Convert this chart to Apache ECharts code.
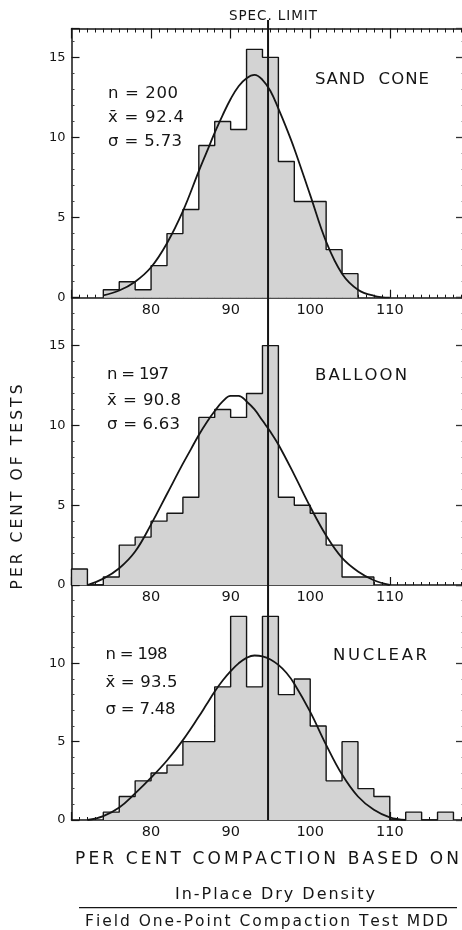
<!DOCTYPE html>
<html>
<head>
<meta charset="utf-8">
<script src="https://cdn.jsdelivr.net/npm/echarts@6/dist/echarts.min.js"></script>
<style>
  html, body { margin: 0; padding: 0; background: #ffffff; }
  #chart { width: 462px; height: 930px; }
</style>
</head>
<body>
<div id="chart"></div>
<script>
// Distribution of field per-cent compaction for three density test methods.

const SPEC_LIMIT = 94.7;

// Sand cone: histogram bin edges and per cent of tests in each bin
const sandConeEdges = [74, 76, 78, 80, 82, 84, 86, 88, 90, 92, 94, 96, 98, 100, 102, 104, 106];
const sandConePct   = [0.5, 1, 0.5, 2, 4, 5.5, 9.5, 11, 10.5, 15.5, 15, 8.5, 6, 6, 3, 1.5];
// Sand cone fitted normal curve
const sandConeFitX = [74, 76, 78, 80, 82, 84, 86, 87, 88, 89, 90, 91, 92, 93, 94, 95, 96, 97, 98, 100, 102, 104, 106, 108, 110];
const sandConeFitY = [0.15, 0.45, 1.0, 1.9, 3.4, 5.4, 7.9, 9.1, 10.3, 11.4, 12.4, 13.2, 13.7, 13.9, 13.6, 12.9, 11.8, 10.6, 9.3, 6.4, 3.5, 1.5, 0.5, 0.12, 0];

// Balloon
const balloonEdges = [70, 72, 74, 76, 78, 80, 82, 84, 86, 88, 90, 92, 94, 96, 98, 100, 102, 104, 106, 108];
const balloonPct   = [1, 0, 0.5, 2.5, 3, 4, 4.5, 5.5, 10.5, 11, 10.5, 12, 15, 5.5, 5, 4.5, 2.5, 0.5, 0.5];
const balloonFitX = [72, 74, 76, 78, 80, 82, 84, 85, 86, 87, 88, 89, 90, 91, 92, 93, 94, 95, 96, 98, 100, 102, 104, 106, 108, 110];
const balloonFitY = [0, 0.4, 1.05, 2.1, 3.8, 5.7, 7.6, 8.5, 9.4, 10.2, 10.9, 11.5, 11.85, 11.85, 11.5, 11.0, 10.3, 9.6, 8.8, 6.9, 4.9, 3.1, 1.7, 0.85, 0.3, 0];

// Nuclear
const nuclearEdges = [74, 76, 78, 80, 82, 84, 86, 88, 90, 92, 94, 96, 98, 100, 102, 104, 106, 108, 110, 112, 114, 116, 118];
const nuclearPct   = [0.5, 1.5, 2.5, 3, 3.5, 5, 5, 8.5, 13, 8.5, 13, 8, 9, 6, 2.5, 5, 2, 1.5, 0, 0.5, 0, 0.5];
const nuclearFitX = [72, 74, 76, 78, 80, 82, 84, 86, 87, 88, 89, 90, 91, 92, 93, 94, 95, 96, 97, 98, 100, 102, 104, 106, 108, 110, 112];
const nuclearFitY = [0, 0.25, 0.8, 1.7, 2.7, 3.8, 5.1, 6.6, 7.4, 8.2, 8.9, 9.5, 10.0, 10.35, 10.5, 10.45, 10.25, 9.9, 9.4, 8.7, 6.9, 4.8, 2.9, 1.5, 0.65, 0.17, 0];

// Panel captions and summary statistics
const panelNames = ['SAND  CONE', 'BALLOON', 'NUCLEAR'];
const panelN     = ['200', '197', '198'];
const panelMean  = ['92.4', '90.8', '93.5'];
const panelSigma = ['5.73', '6.63', '7.48'];

// Axis ranges and tick labels
const X_MIN = 70, X_MAX = 119.2;
const xTickLabels = ['80', '90', '100', '110'];
const yTickLabels = ['0', '5', '10', '15'];
const panelYMax = [16.8, 18, 15];

const INK = '#151515';
const FILL = '#d3d3d3';
const FONT = "'DejaVu Sans', sans-serif";

const grids = [
  { left: 71.5, top: 28.5, width: 391.5, height: 269.2 },
  { left: 71.5, top: 297.7, width: 391.5, height: 287.3 },
  { left: 71.5, top: 585, width: 391.5, height: 235 }
].map(g => Object.assign({ containLabel: false, outerBoundsMode: 'none' }, g));

// Step outline of a histogram: up the first edge, across each bin, down the last edge.
function stepData(edges, pct) {
  const pts = [[edges[0], 0]];
  pct.forEach((v, i) => pts.push([edges[i], v]));
  pts.push([edges[edges.length - 1], 0]);
  return pts;
}
function pairs(xs, ys) { return xs.map((x, i) => [x, ys[i]]); }

function bottomAxis(gi) {
  return {
    type: 'value', gridIndex: gi, position: 'bottom', min: X_MIN, max: X_MAX, interval: 10,
    axisLine: { show: true, onZero: false, lineStyle: { color: INK, width: 1.5 } },
    axisTick: { show: true, inside: true, length: 8, lineStyle: { color: INK, width: 1.2 } },
    minorTick: { show: true, splitNumber: 10, length: 3, lineStyle: { color: INK, width: 1 } },
    splitLine: { show: false }, minorSplitLine: { show: false },
    axisLabel: {
      show: true, margin: 5, fontSize: 14.5, color: INK, fontFamily: FONT,
      showMinLabel: false, showMaxLabel: false,
      formatter: v => xTickLabels.includes(String(v)) ? String(v) : ''
    }
  };
}
function topAxis(gi) {
  return {
    type: 'value', gridIndex: gi, position: 'top', min: X_MIN, max: X_MAX, interval: 10,
    axisLine: { show: true, onZero: false, lineStyle: { color: INK, width: 1.5 } },
    axisTick: { show: true, inside: true, length: 10, lineStyle: { color: INK, width: 1.2 } },
    minorTick: { show: true, splitNumber: 10, length: 4, lineStyle: { color: INK, width: 1 } },
    splitLine: { show: false }, axisLabel: { show: false }
  };
}
function leftAxis(gi) {
  return {
    type: 'value', gridIndex: gi, position: 'left', min: 0, max: panelYMax[gi], interval: 5,
    axisLine: { show: true, onZero: false, lineStyle: { color: INK, width: 1.5 } },
    axisTick: { show: true, inside: true, length: 8, lineStyle: { color: INK, width: 1.2 } },
    minorTick: { show: true, splitNumber: 5, length: 3, lineStyle: { color: '#444', width: 1 } },
    splitLine: { show: false }, minorSplitLine: { show: false },
    axisLabel: {
      show: true, margin: 6, fontSize: 13, color: INK, fontFamily: FONT,
      showMaxLabel: false,
      formatter: v => yTickLabels.includes(String(v)) ? String(v) : ''
    }
  };
}
function rightAxis(gi) {
  return {
    type: 'value', gridIndex: gi, position: 'right', min: 0, max: panelYMax[gi], interval: 5,
    axisLine: { show: true, onZero: false, lineStyle: { color: '#d8d8d8', width: 1 } },
    axisTick: { show: true, inside: true, length: 7, lineStyle: { color: '#333', width: 1.3 } },
    minorTick: { show: true, splitNumber: 5, length: 2, lineStyle: { color: '#bbb', width: 1 } },
    splitLine: { show: false }, axisLabel: { show: false }
  };
}

function histSeries(gi, edges, pct) {
  return {
    type: 'line', xAxisIndex: gi, yAxisIndex: gi, step: 'end', symbol: 'none',
    data: stepData(edges, pct), z: 2,
    lineStyle: { color: INK, width: 1.4 },
    areaStyle: { color: FILL, opacity: 1 }
  };
}
function fitSeries(gi, xs, ys) {
  return {
    type: 'line', xAxisIndex: gi, yAxisIndex: gi, smooth: 0.4,
    symbol: 'none', data: pairs(xs, ys), z: 3,
    lineStyle: { color: INK, width: 1.8 }
  };
}

// Text laid out glyph by glyph so that each string fills a given width.
const measureCtx = document.createElement('canvas').getContext('2d');
function clusters(s) {
  const out = [];
  for (const ch of Array.from(s)) {
    if (/[\u0300-\u036f]/.test(ch) && out.length) out[out.length - 1] += ch;
    else out.push(ch);
  }
  return out;
}
function spacedText(id, str, x, y, size, width, opt) {
  opt = opt || {};
  const font = `normal ${size}px ${FONT}`;
  measureCtx.font = font;
  const cl = clusters(str);
  const ws = cl.map(c => measureCtx.measureText(c).width);
  const natural = ws.reduce((a, b) => a + b, 0);
  const gap = cl.length > 1 ? (width - natural) / (cl.length - 1) : 0;
  const startX = opt.center ? -width / 2 : 0;
  let cx = startX;
  const children = [];
  cl.forEach((c, i) => {
    if (c.trim()) {
      children.push({
        type: 'text',
        style: {
          text: c, x: cx, y: 0, font: font, fill: INK,
          textAlign: 'left', textVerticalAlign: 'middle', align: 'left', verticalAlign: 'middle'
        }
      });
    }
    cx += ws[i] + gap;
  });
  return { type: 'group', id: id, x: x, y: y, rotation: opt.rotation || 0, children: children, z: 10 };
}

const textLayout = [
  { x: 108, ys: [94, 118, 142], ws: [70, 76, 74], name: [315, 80, 114] },
  { x: 107, ys: [375, 400.5, 425], ws: [62, 74, 73], name: [315, 376, 92] },
  { x: 105.5, ys: [655, 682.5, 710], ws: [62, 72, 70], name: [333, 656, 94] }
];

function buildGraphics(specX, specBottom) {
  const g = [];
  g.push({
    type: 'line', id: 'spec', z: 20,
    shape: { x1: specX, y1: 20, x2: specX, y2: specBottom },
    style: { stroke: INK, lineWidth: 2 }
  });
  g.push(spacedText('specLabel', 'SPEC. LIMIT', 229, 16.5, 13.5, 88));
  textLayout.forEach((t, i) => {
    g.push(spacedText('n' + i, 'n = ' + panelN[i], t.x, t.ys[0], 16.5, t.ws[0]));
    g.push(spacedText('m' + i, 'x\u0304 = ' + panelMean[i], t.x, t.ys[1], 16.5, t.ws[1]));
    g.push(spacedText('s' + i, '\u03c3 = ' + panelSigma[i], t.x, t.ys[2], 16.5, t.ws[2]));
    g.push(spacedText('name' + i, panelNames[i], t.name[0], t.name[1], 16.5, t.name[2]));
  });
  g.push(spacedText('yTitle', 'PER CENT OF TESTS', 18, 487, 15.5, 205, { center: true, rotation: Math.PI / 2 }));
  g.push(spacedText('xTitle1', 'PER CENT COMPACTION BASED ON', 75, 859.5, 17, 384));
  g.push(spacedText('xTitle2', 'In-Place Dry Density', 175, 895, 16, 200));
  g.push({
    type: 'line', id: 'ratioBar', z: 10,
    shape: { x1: 79, y1: 907.7, x2: 457, y2: 907.7 },
    style: { stroke: INK, lineWidth: 1.3 }
  });
  g.push(spacedText('xTitle3', 'Field One-Point Compaction Test MDD', 85, 922.3, 15.5, 363));
  return g;
}

const chart = echarts.init(document.getElementById('chart'), null, { renderer: 'canvas' });
chart.setOption({
  animation: false,
  backgroundColor: '#ffffff',
  grid: grids,
  xAxis: [bottomAxis(0), bottomAxis(1), bottomAxis(2), topAxis(0)],
  yAxis: [leftAxis(0), leftAxis(1), leftAxis(2), rightAxis(0), rightAxis(1), rightAxis(2)],
  series: [
    histSeries(0, sandConeEdges, sandConePct),
    fitSeries(0, sandConeFitX, sandConeFitY),
    histSeries(1, balloonEdges, balloonPct),
    fitSeries(1, balloonFitX, balloonFitY),
    histSeries(2, nuclearEdges, nuclearPct),
    fitSeries(2, nuclearFitX, nuclearFitY)
  ]
});

const specTop = chart.convertToPixel({ gridIndex: 0 }, [SPEC_LIMIT, 0]);
const specBottom = chart.convertToPixel({ gridIndex: 2 }, [SPEC_LIMIT, 0]);
chart.setOption({ graphic: buildGraphics(specTop[0], specBottom[1]) });
</script>
</body>
</html>
